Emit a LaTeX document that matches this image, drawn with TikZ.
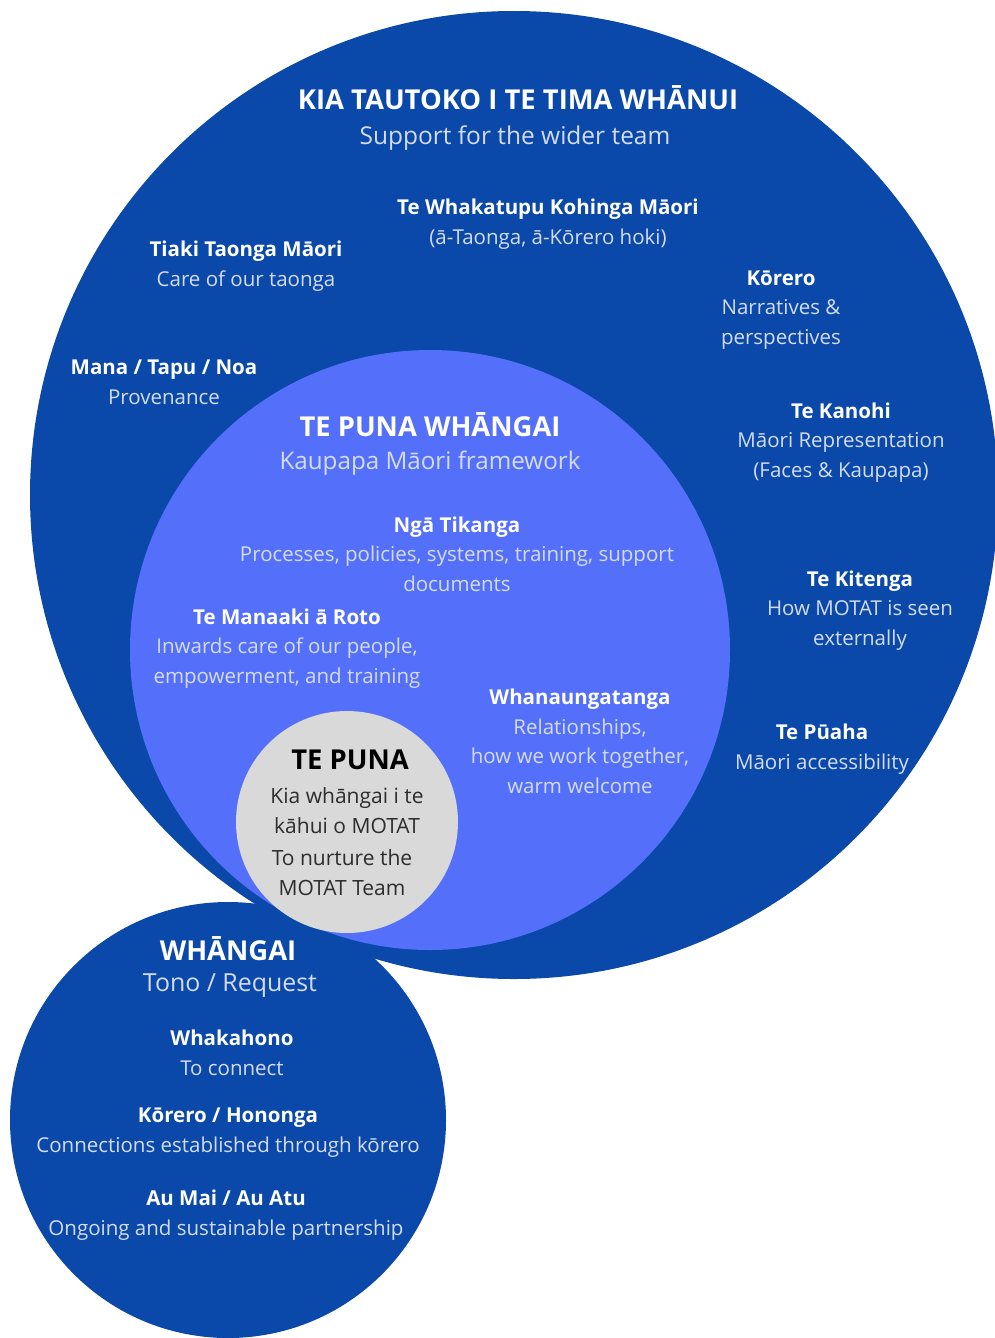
\documentclass[tikz,border=0pt]{standalone}
\usepackage{fontspec}
\setmainfont{Open Sans}
\usepackage{tikz}

\definecolor{deepblue}{RGB}{10,72,170}
\definecolor{midblue}{RGB}{84,112,250}
\definecolor{pool}{RGB}{217,217,217}
\definecolor{soft}{RGB}{212,220,242}
\definecolor{ink}{RGB}{45,45,45}

\begin{document}
\begin{tikzpicture}[x=1pt,y=-1pt]
        \tikzset{disc/.style = {shape=circle,inner sep=0pt,draw=none},
                 lbl/.style = {anchor=base,align=center,inner sep=0pt,text=soft,
                               font=\fontsize{20.5}{29.5}\selectfont},
                 head/.style = {anchor=base,align=center,inner sep=0pt,text=white,
                                font=\bfseries\fontsize{27.4}{32}\selectfont}}
        \useasboundingbox (0,0) rectangle (994,1338);
        % circles
        \node[disc,fill=deepblue,minimum size=968pt] (wider) at (514,495) {};
        \node[disc,fill=deepblue,minimum size=436pt] (whangai) at (228,1120) {};
        \node[disc,fill=midblue,minimum size=600pt] (framework) at (430,650) {};
        \node[disc,fill=pool,minimum size=222pt] (puna) at (347,822) {};
        % outer ring (anchor base = last line)
        \node[head] (t1) at (518,109) {KIA TAUTOKO I TE TIMA WHĀNUI};
        \node[lbl,font=\fontsize{24.5}{30}\selectfont] (t2) at (515,144) {Support for the wider team};
        \node[lbl] (kohinga) at (548,244) {\textbf{\color{white}Te Whakatupu Kohinga Māori}\\(ā-Taonga, ā-Kōrero hoki)};
        \node[lbl] (tiaki) at (246,286) {\textbf{\color{white}Tiaki Taonga Māori}\\Care of our taonga};
        \node[lbl] (korero) at (781,344) {\textbf{\color{white}Kōrero}\\Narratives \&\\perspectives};
        \node[lbl] (mana) at (164,404) {\textbf{\color{white}Mana / Tapu / Noa}\\Provenance};
        \node[lbl] (kanohi) at (841,477) {\textbf{\color{white}Te Kanohi}\\Māori Representation\\(Faces \& Kaupapa)};
        \node[lbl] (kitenga) at (860,645) {\textbf{\color{white}Te Kitenga}\\How MOTAT is seen\\externally};
        \node[lbl] (puaha) at (822,769) {\textbf{\color{white}Te Pūaha}\\Māori accessibility};
        % middle circle
        \node[head] (f1) at (430,436) {TE PUNA WHĀNGAI};
        \node[lbl,font=\fontsize{24.2}{30}\selectfont] (f2) at (430,469) {Kaupapa Māori framework};
        \node[lbl] (tikanga) at (457,591) {\textbf{\color{white}Ngā Tikanga}\\Processes, policies, systems, training, support\\documents};
        \node[lbl] (manaaki) at (287,683) {\textbf{\color{white}Te Manaaki ā Roto}\\Inwards care of our people,\\empowerment, and training};
        \node[lbl] (whanau) at (580,793) {\textbf{\color{white}Whanaungatanga}\\Relationships,\\how we work together,\\warm welcome};
        % centre
        \node[head,text=black] (p1) at (350,769) {TE PUNA};
        \node[lbl,text=ink,font=\fontsize{21}{29.5}\selectfont] (kia) at (347,833) {Kia whāngai i te\\kāhui o MOTAT};
        \node[lbl,text=ink,font=\fontsize{21}{29.5}\selectfont] (nurture) at (342,895) {To nurture the\\MOTAT Team};
        % lower circle
        \node[head] (w1) at (228,960) {WHĀNGAI};
        \node[lbl,font=\fontsize{24.9}{30}\selectfont] (w2) at (230,991) {Tono / Request};
        \node[lbl] (hono) at (232,1075) {\textbf{\color{white}Whakahono}\\To connect};
        \node[lbl] (hononga) at (228,1152) {\textbf{\color{white}Kōrero / Hononga}\\Connections established through kōrero};
        \node[lbl] (aumai) at (226,1235) {\textbf{\color{white}Au Mai / Au Atu}\\Ongoing and sustainable partnership};
\end{tikzpicture}
\end{document}
